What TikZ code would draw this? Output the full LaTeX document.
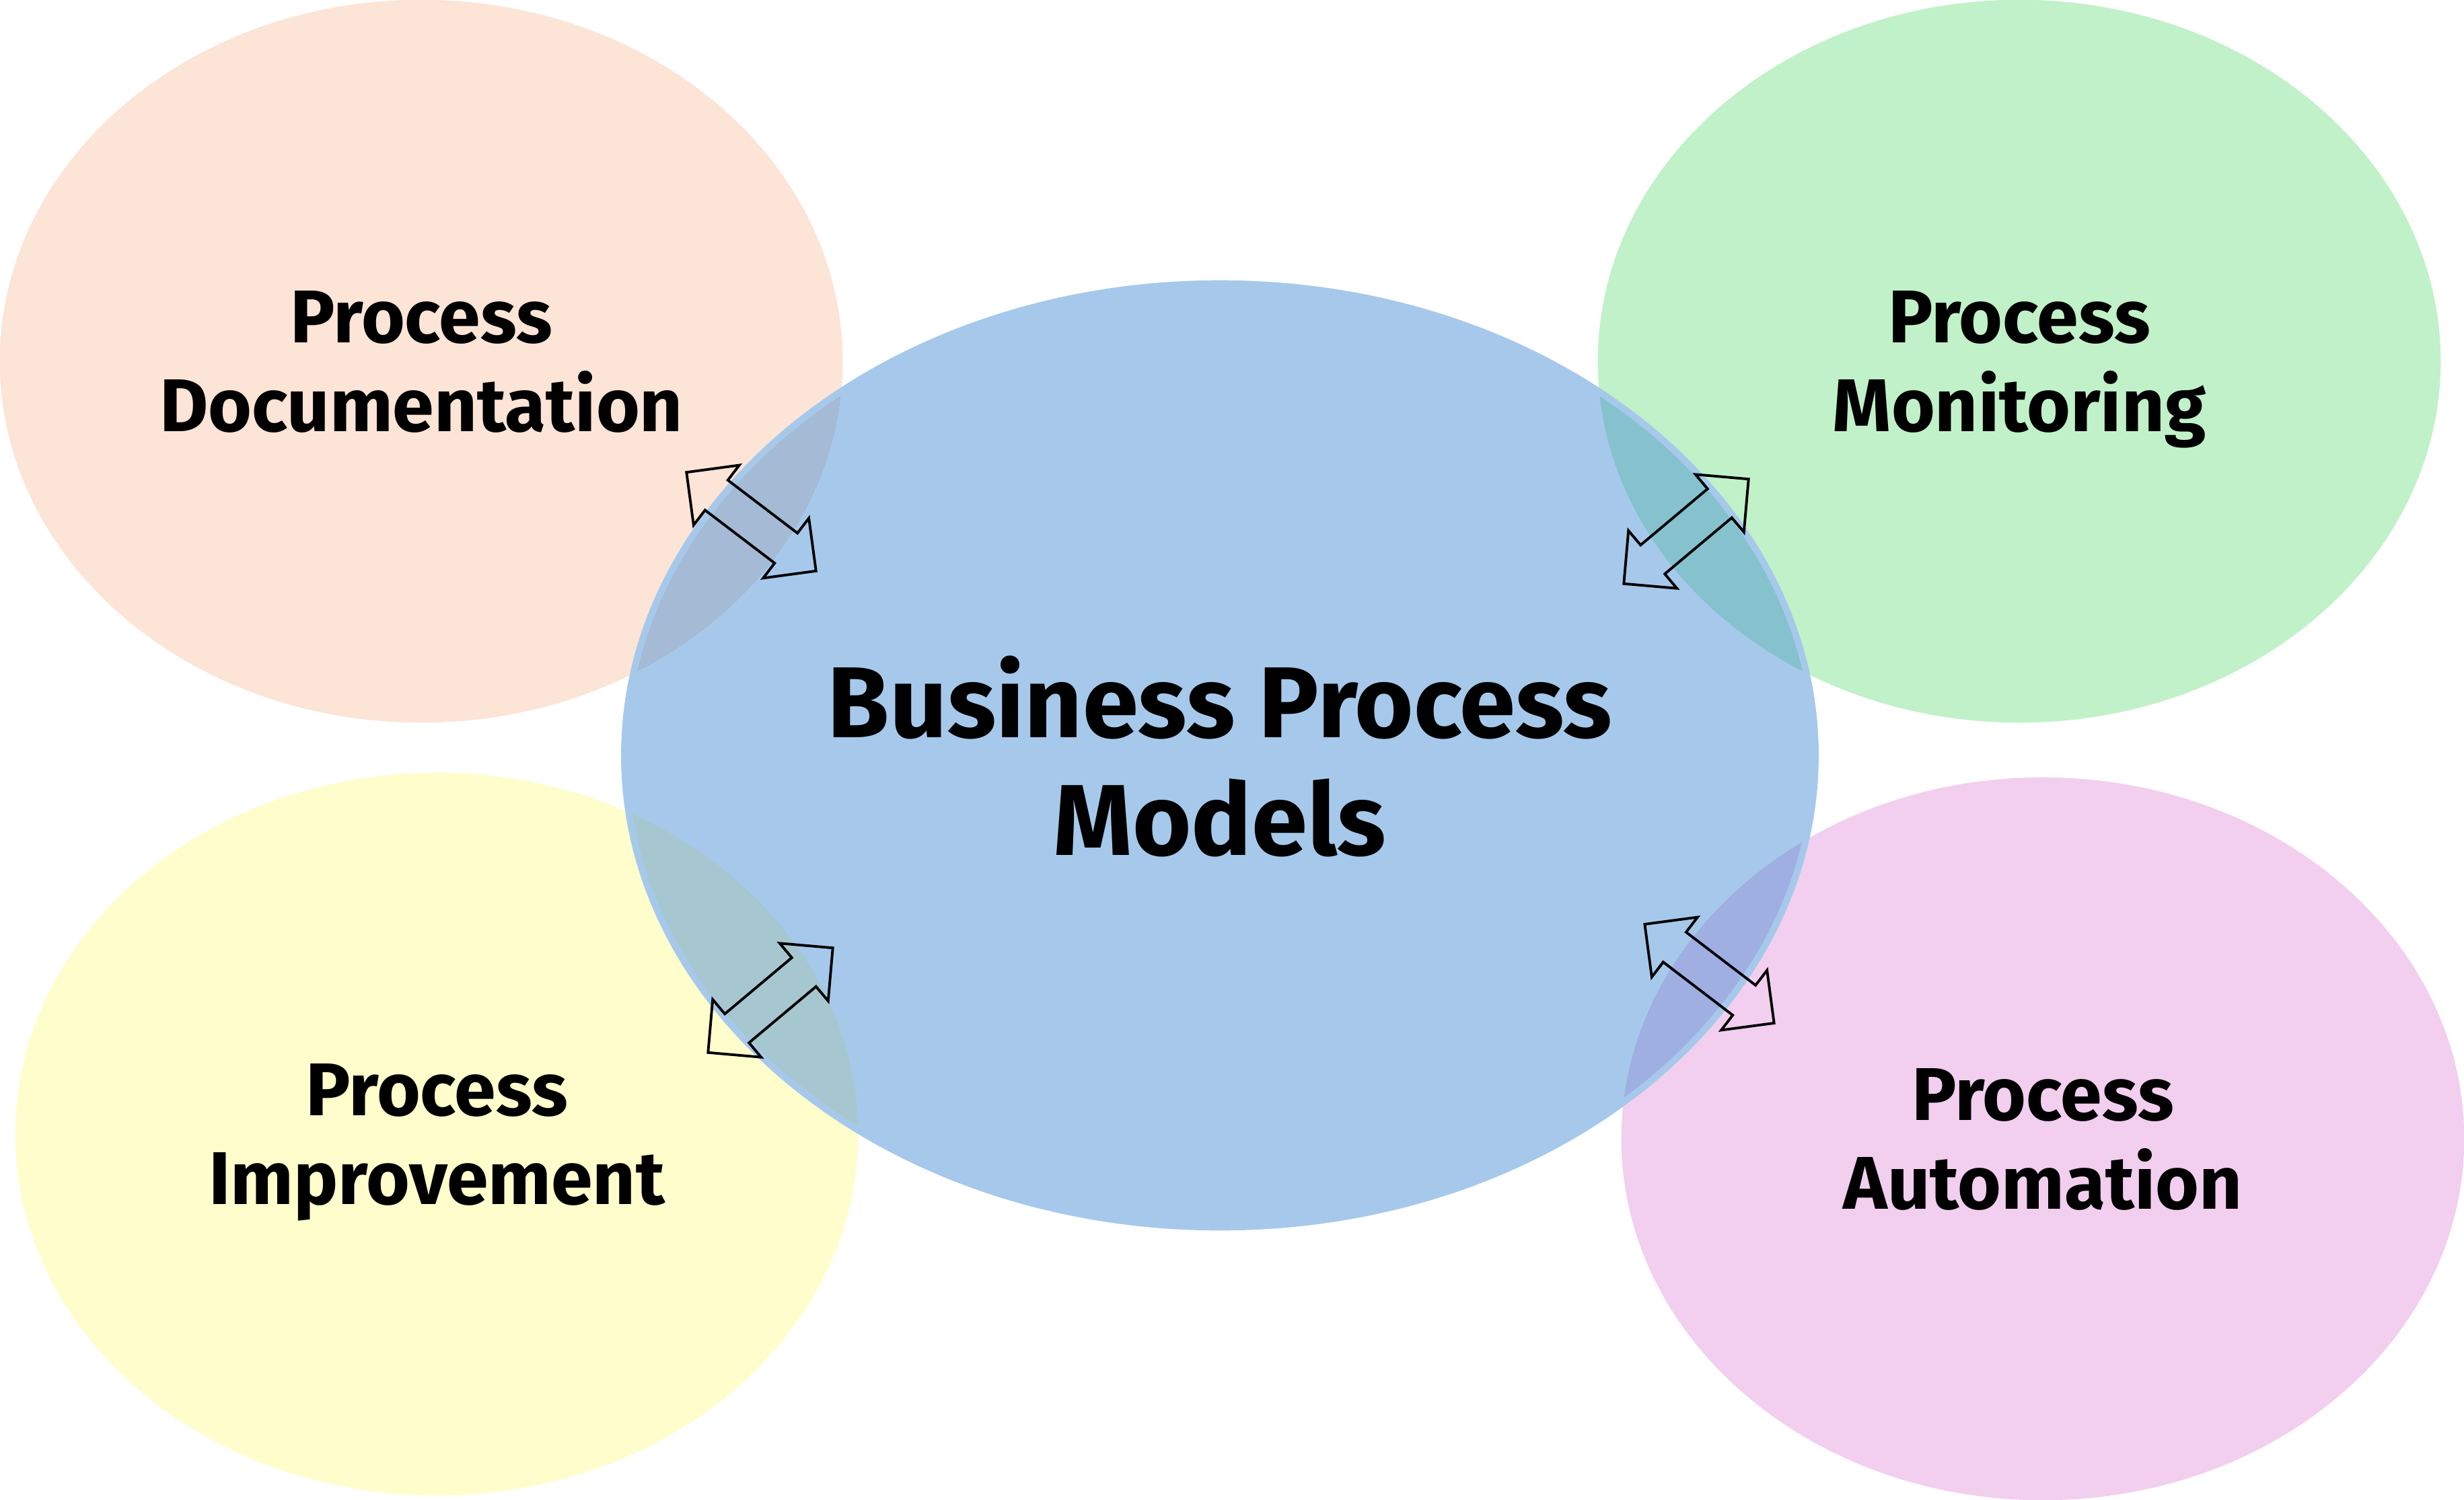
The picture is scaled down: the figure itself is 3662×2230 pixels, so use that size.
\documentclass[tikz,border=0pt]{standalone}
\usepackage{fontspec}
\newfontfamily\labfont{Fira Sans}
\usetikzlibrary{shapes.geometric}
\definecolor{peach}{HTML}{FCE4D6}
\definecolor{mint}{HTML}{C1F1C8}
\definecolor{lemon}{HTML}{FFFDCC}
\definecolor{orchid}{HTML}{F2CFEE}
\definecolor{bluefill}{RGB}{70,142,213}
\definecolor{bluestroke}{HTML}{A6C9EB}
\tikzset{
  outer/.style={ellipse, inner sep=0pt, minimum width=12.52cm, minimum height=10.74cm,
    align=center, text depth=0pt, font=\labfont\bfseries\fontsize{31.6}{37.6}\selectfont},
  core/.style={ellipse, inner sep=0pt, fill=bluefill, fill opacity=0.48, text opacity=1,
    draw=bluestroke, line width=2.8pt, align=center, text depth=0pt,
    font=\labfont\bfseries\fontsize{42.6}{49.8}\selectfont},
  arrowline/.style={draw=black, line width=1.1pt, miter limit=10},
  dblarrow/.pic={\path[arrowline] (-121,0) -- (-65,56) -- (-65,28) -- (65,28) -- (65,56)
    -- (121,0) -- (65,-56) -- (65,-28) -- (-65,-28) -- (-65,-56) -- cycle;}
}
\begin{document}
\begin{tikzpicture}[x=0.01cm,y=0.01cm]
\useasboundingbox (0,0) rectangle (3662,-2230);
\node[outer, fill=peach] (doc) at (626,-537) {Process\\Documentation};
\node[outer, fill=mint] (mon) at (3001,-537) {Process\\Monitoring};
\node[outer, fill=lemon] (imp) at (649,-1686) {Process\\Improvement};
\node[outer, fill=orchid] (aut) at (3036,-1693) {Process\\Automation};
\node[core, minimum width=17.69cm, minimum height=14.02cm] (bpm) at (1813,-1123) {Business Process\\Models};
\pic (a1) at (1116.5,-775.5) [rotate=-37.3] {dblarrow};
\pic (a2) at (2506,-790) [rotate=40] {dblarrow};
\pic (a3) at (1145,-1487) [rotate=40] {dblarrow};
\pic (a4) at (2540.5,-1447.5) [rotate=-37.4] {dblarrow};
\end{tikzpicture}
\end{document}
